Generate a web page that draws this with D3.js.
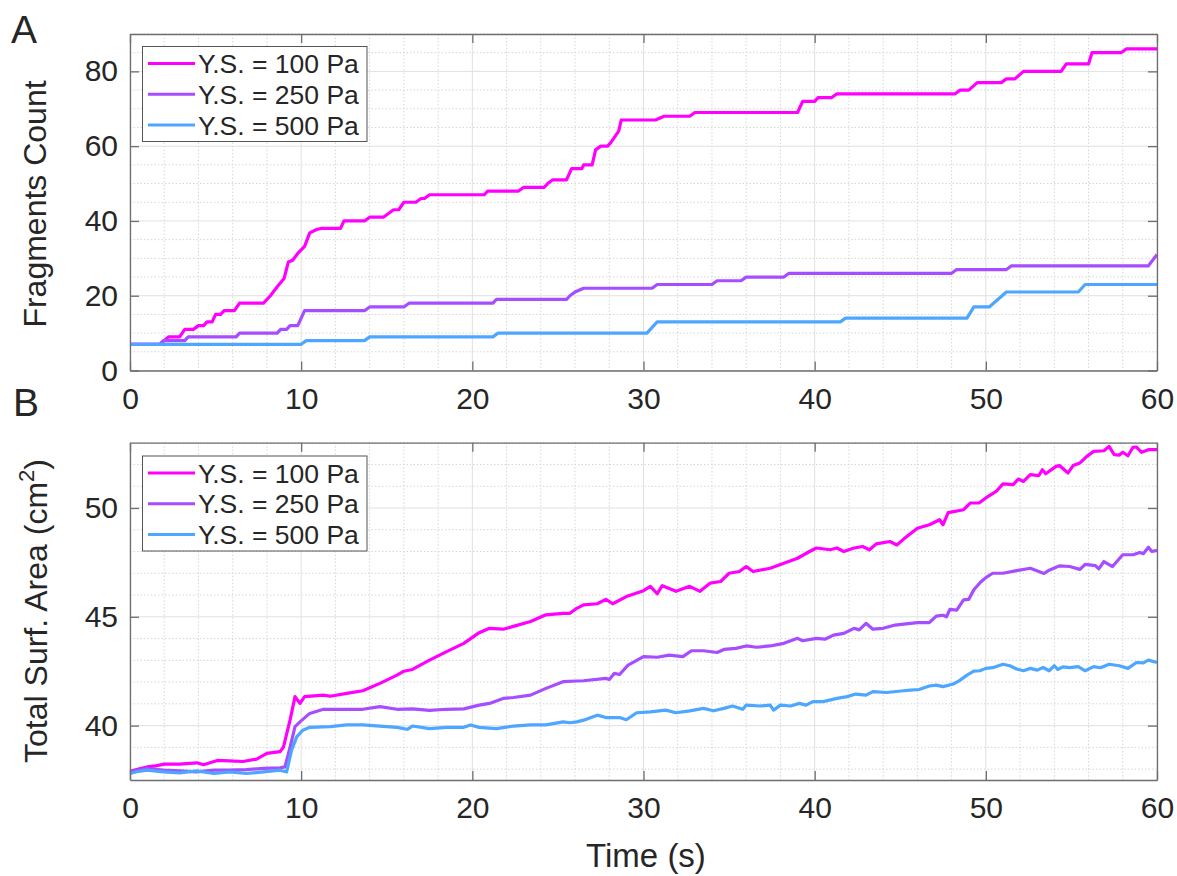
<!DOCTYPE html>
<html>
<head>
<meta charset="utf-8">
<script src="https://cdn.jsdelivr.net/npm/d3@7"></script>
<style>
  body { margin: 0; background: #fff; }
  svg text { font-family: "Liberation Sans", Arial, sans-serif; fill: #262626; }
</style>
</head>
<body>
<div class="graph"></div>
<script>
// ---- data ----
const seriesNames = ['Y.S. = 100 Pa', 'Y.S. = 250 Pa', 'Y.S. = 500 Pa'];
const seriesColors = ['#ff00ff', '#a64dff', '#4da6ff'];

const xTicks = [0, 10, 20, 30, 40, 50, 60];
const yTicksA = [0, 20, 40, 60, 80];
const yTicksB = [40, 45, 50];

// panel A : fragments count, [time (s), count]
const countYS100 = [[0,7],[1.75,7],[2.25,9],[2.9,9],[3.2,11],[3.7,11],[4.0,12],[4.3,12],[4.5,13],[4.8,13],[5.0,15],[5.3,15],[5.5,16],[6.1,16],[6.4,18],[7.8,18],[8.2,20],[8.6,22.4],[9.0,24.6],[9.25,29],[9.5,29.5],[9.8,31.3],[10.2,33.2],[10.5,36.8],[10.9,37.7],[11.2,38],[12.3,38],[12.5,40],[13.7,40],[14.0,41],[14.8,41],[15.1,42],[15.4,43],[15.7,43],[16.0,45],[16.7,45],[17.0,46],[17.2,46],[17.5,47],[20.7,47],[20.9,48],[22.7,48],[23.0,49],[24.2,49],[24.4,50],[24.7,51],[25.5,51],[25.8,54],[26.4,54],[26.5,55],[27.0,55],[27.2,59],[27.5,60],[27.9,60],[28.1,61],[28.4,63],[28.55,64],[28.7,67],[30.7,67],[31.2,68],[32.7,68],[33.0,69],[39.0,69],[39.3,72],[40.0,72],[40.2,73],[41.0,73],[41.3,74],[48.2,74],[48.5,75],[49.0,75],[49.5,77],[50.9,77],[51.2,78],[51.7,78],[52.2,80],[54.4,80],[54.7,82],[56.0,82],[56.2,85],[57.9,85],[58.2,86],[60,86]];
const countYS250 = [[0,7],[1.75,7],[1.95,8],[3.2,8],[3.4,9],[6.2,9],[6.4,10],[8.6,10],[8.8,11],[9.15,11],[9.35,12],[9.8,12],[10.2,16],[13.7,16],[14.0,17],[16.0,17],[16.3,18],[21.2,18],[21.4,19],[25.5,19],[25.7,20],[26.0,21],[26.5,22],[30.5,22],[30.8,23],[34.0,23],[34.3,24],[35.7,24],[36.0,25],[38.2,25],[38.5,26],[48.0,26],[48.3,27],[51.2,27],[51.5,28],[59.5,28],[60,31]];
const countYS500 = [[0,7],[10.0,7],[10.3,8],[13.7,8],[14.0,9],[21.2,9],[21.5,10],[30.2,10],[30.8,13],[41.5,13],[41.8,14],[48.9,14],[49.3,17],[50.2,17],[51.2,21],[55.4,21],[55.8,23],[60,23]];

// panel B : total surface area (cm^2), [time (s), area]
const areaYS100 = [[0,37.9],[0.5,38.0],[1.0,38.1],[1.5,38.15],[2.0,38.23],[2.9,38.23],[3.9,38.29],[4.3,38.2],[5.1,38.4],[5.8,38.38],[6.6,38.35],[7.4,38.46],[8.0,38.72],[8.76,38.8],[8.96,39.0],[9.35,40.25],[9.64,41.33],[9.93,41.02],[10.2,41.33],[11.3,41.4],[11.7,41.35],[12.66,41.48],[13.6,41.6],[14.6,41.94],[15.6,42.32],[16.0,42.5],[16.5,42.58],[17.5,43.01],[18.5,43.4],[19.5,43.78],[20.4,44.27],[21.0,44.47],[21.8,44.43],[22.4,44.56],[23.4,44.78],[24.3,45.09],[25.3,45.16],[25.7,45.16],[26.1,45.39],[26.5,45.55],[27.3,45.6],[27.8,45.8],[28.2,45.6],[29.0,45.93],[30.0,46.2],[30.4,46.4],[30.8,46.06],[31.1,46.43],[31.9,46.17],[32.7,46.4],[33.3,46.17],[33.9,46.55],[34.5,46.62],[35.0,47.0],[35.6,47.08],[36.0,47.31],[36.4,47.08],[37.4,47.23],[38.2,47.46],[39.0,47.69],[39.7,48.0],[40.1,48.16],[40.9,48.08],[41.3,48.16],[41.7,48.0],[42.3,48.16],[42.8,48.23],[43.2,48.08],[43.6,48.35],[44.4,48.46],[44.8,48.3],[45.2,48.57],[46.0,49.07],[46.7,49.23],[47.3,49.46],[47.5,49.23],[47.8,49.79],[48.7,49.92],[49.1,50.23],[49.6,50.23],[50.0,50.46],[50.6,50.76],[51.0,51.11],[51.6,51.07],[51.9,51.33],[52.2,51.22],[52.6,51.53],[53.1,51.49],[53.3,51.76],[53.5,51.57],[54.1,51.91],[54.3,51.95],[54.8,51.61],[55.1,51.95],[55.5,52.07],[55.9,52.37],[56.3,52.6],[56.9,52.63],[57.2,52.83],[57.5,52.45],[57.8,52.43],[58.0,52.56],[58.3,52.4],[58.6,52.79],[58.8,52.8],[59.1,52.56],[59.5,52.68],[60,52.68]];
const areaYS250 = [[0,37.9],[0.5,37.95],[1.0,38.03],[1.95,37.95],[2.9,37.92],[3.9,37.87],[4.9,37.95],[5.8,37.95],[6.8,37.98],[7.8,38.03],[8.76,38.06],[9.05,38.1],[9.35,39.0],[9.64,39.95],[9.93,40.17],[10.5,40.56],[11.3,40.75],[12.66,40.75],[13.6,40.75],[14.6,40.87],[15.6,40.75],[16.5,40.77],[17.5,40.7],[18.5,40.75],[19.5,40.77],[20.4,40.94],[21.0,41.02],[21.8,41.25],[22.4,41.29],[23.4,41.4],[24.3,41.71],[25.3,42.02],[26.1,42.05],[26.5,42.06],[27.8,42.17],[28.0,42.12],[28.3,42.4],[28.6,42.35],[29.1,42.78],[30.0,43.17],[30.8,43.14],[31.5,43.24],[32.3,43.17],[32.8,43.44],[33.5,43.44],[34.3,43.36],[34.7,43.5],[35.4,43.55],[36.0,43.66],[36.6,43.6],[37.4,43.66],[38.2,43.78],[39.0,44.01],[39.3,43.9],[40.1,44.01],[40.6,43.97],[41.1,44.16],[41.7,44.24],[42.3,44.47],[42.6,44.4],[43.0,44.7],[43.4,44.43],[44.0,44.47],[44.7,44.62],[45.2,44.66],[46.0,44.73],[46.7,44.73],[47.1,45.03],[47.5,45.07],[47.7,45.0],[47.9,45.34],[48.3,45.31],[48.7,45.78],[49.0,45.8],[49.3,46.24],[49.7,46.6],[50.0,46.8],[50.4,47.0],[51.0,47.0],[51.8,47.12],[52.6,47.23],[53.4,46.99],[53.7,47.14],[54.3,47.34],[54.9,47.31],[55.5,47.18],[55.8,47.41],[56.4,47.35],[56.6,47.2],[56.9,47.54],[57.4,47.31],[58.0,47.85],[58.6,47.85],[59.0,47.95],[59.2,47.9],[59.5,48.2],[59.7,48.0],[60,48.05]];
const areaYS500 = [[0,37.8],[0.5,37.9],[1.0,37.95],[1.95,37.87],[2.9,37.83],[3.9,37.92],[4.9,37.8],[5.8,37.87],[6.8,37.8],[7.8,37.87],[8.76,37.95],[9.15,37.87],[9.44,38.87],[9.74,39.48],[10.1,39.79],[10.5,39.92],[11.7,39.95],[12.66,40.03],[13.6,40.03],[14.6,39.98],[15.6,39.92],[16.2,39.83],[16.5,39.98],[17.5,39.86],[18.5,39.92],[19.5,39.92],[19.9,40.03],[20.4,39.92],[21.4,39.86],[22.4,39.98],[23.4,40.03],[24.3,40.03],[25.3,40.17],[25.7,40.13],[26.1,40.17],[26.5,40.25],[27.3,40.48],[27.8,40.37],[28.6,40.37],[29.0,40.27],[29.6,40.59],[30.4,40.63],[31.3,40.71],[31.9,40.59],[32.7,40.68],[33.5,40.79],[34.1,40.68],[34.7,40.79],[35.2,40.9],[35.8,40.75],[36.0,40.94],[36.8,40.9],[37.4,40.94],[37.6,40.71],[38.0,40.94],[38.6,40.9],[39.1,41.02],[39.5,40.94],[39.9,41.1],[40.5,41.1],[41.3,41.25],[41.9,41.33],[42.4,41.45],[43.0,41.4],[43.4,41.56],[44.2,41.52],[45.2,41.6],[45.6,41.63],[46.1,41.66],[46.7,41.82],[47.1,41.86],[47.5,41.79],[48.1,41.91],[48.5,42.09],[48.9,42.32],[49.3,42.5],[49.65,42.52],[50.0,42.63],[50.4,42.66],[51.0,42.82],[51.4,42.75],[51.8,42.6],[52.2,42.52],[52.6,42.63],[53.0,42.55],[53.35,42.67],[53.7,42.52],[54.0,42.75],[54.2,42.58],[54.5,42.7],[54.9,42.66],[55.4,42.71],[55.8,42.52],[56.3,42.71],[56.7,42.66],[57.2,42.82],[57.8,42.75],[58.3,42.63],[58.8,42.9],[59.2,42.88],[59.5,43.01],[60,42.9]];

// ---- drawing ----
const W = 1177, H = 876;
const svg = d3.select('.graph').append('svg').attr('width', W).attr('height', H);

const left = 130, right = 1157;
const x = d3.scaleLinear().domain([0, 60]).range([left, right]);

const drawPanel = (cfg) => {
    const y = d3.scaleLinear().domain(cfg.yDomain).range([cfg.bottom, cfg.top]);
    const g = svg.append('g');
    const gridC = '#d6d6d6';

    // minor grid (dotted)
    g.selectAll('.mx').data(d3.range(0, 60.01, 2).filter(v => v % 10 !== 0)).enter().append('line')
        .attr('x1', d => x(d)).attr('x2', d => x(d)).attr('y1', cfg.top).attr('y2', cfg.bottom)
        .attr('stroke', gridC).attr('stroke-width', 1).attr('stroke-dasharray', '1.5,2');
    g.selectAll('.my').data(cfg.minorY.filter(v => !cfg.yTicks.includes(v))).enter().append('line')
        .attr('x1', left).attr('x2', right).attr('y1', d => y(d)).attr('y2', d => y(d))
        .attr('stroke', gridC).attr('stroke-width', 1).attr('stroke-dasharray', '1.5,2');
    // major grid
    g.selectAll('.gx').data(xTicks).enter().append('line')
        .attr('x1', d => x(d)).attr('x2', d => x(d)).attr('y1', cfg.top).attr('y2', cfg.bottom)
        .attr('stroke', '#e0e0e0').attr('stroke-width', 1);
    g.selectAll('.gy').data(cfg.yTicks).enter().append('line')
        .attr('x1', left).attr('x2', right).attr('y1', d => y(d)).attr('y2', d => y(d))
        .attr('stroke', '#e0e0e0').attr('stroke-width', 1);

    // data lines
    const line = d3.line().x(d => x(d[0])).y(d => y(d[1]));
    cfg.series.forEach((s, i) => {
        g.append('path').datum(s).attr('d', line)
            .attr('fill', 'none').attr('stroke', seriesColors[i])
            .attr('stroke-width', 3.2).attr('stroke-linejoin', 'round');
    });

    // axes, ticks point inwards like matlab
    const axC = '#6e6e6e';
    const bx = g.append('g').attr('transform', `translate(0,${cfg.bottom})`)
        .call(d3.axisBottom(x).tickValues(xTicks).tickSizeInner(-9).tickSizeOuter(0).tickPadding(17));
    const ly = g.append('g').attr('transform', `translate(${left},0)`)
        .call(d3.axisLeft(y).tickValues(cfg.yTicks).tickSizeInner(-9).tickSizeOuter(0).tickPadding(12));
    const tx = g.append('g').attr('transform', `translate(0,${cfg.top})`)
        .call(d3.axisTop(x).tickValues(xTicks).tickSizeInner(-9).tickSizeOuter(0).tickFormat(''));
    const ry = g.append('g').attr('transform', `translate(${right},0)`)
        .call(d3.axisRight(y).tickValues(cfg.yTicks).tickSizeInner(-9).tickSizeOuter(0).tickFormat(''));
    [bx, ly, tx, ry].forEach(a => {
        a.selectAll('path').attr('stroke', axC).attr('stroke-width', 1.3);
        a.selectAll('line').attr('stroke', axC).attr('stroke-width', 1.3);
        a.selectAll('text').attr('font-size', 30).attr('font-family', '"Liberation Sans", Arial, sans-serif').attr('fill', '#262626');
    });

    // legend
    const lg = g.append('g');
    lg.append('rect').attr('x', 142.5).attr('y', cfg.legTop).attr('width', 224.5).attr('height', 95)
        .attr('fill', '#fff').attr('stroke', '#555').attr('stroke-width', 1);
    seriesNames.forEach((n, i) => {
        const cy = cfg.legTop + 17 + i * 30.8;
        lg.append('line').attr('x1', 148).attr('x2', 195).attr('y1', cy).attr('y2', cy)
            .attr('stroke', seriesColors[i]).attr('stroke-width', 3);
        lg.append('text').attr('x', 198).attr('y', cy).attr('dy', '0.36em')
            .attr('font-size', 26.5).text(n);
    });

    // panel letter
    svg.append('text').attr('x', cfg.letterX).attr('y', cfg.letterY)
        .attr('font-size', 39).text(cfg.letter);
    return g;
};

drawPanel({
    top: 34, bottom: 370.5, yDomain: [0, 90], yTicks: yTicksA, minorY: d3.range(0, 90.1, 5),
    series: [countYS100, countYS250, countYS500], legTop: 46.5, letter: 'A', letterX: 11, letterY: 43
});
drawPanel({
    top: 442.7, bottom: 780, yDomain: [37.5, 53], yTicks: yTicksB, minorY: d3.range(38, 53.1, 1),
    series: [areaYS100, areaYS250, areaYS500], legTop: 456, letter: 'B', letterX: 13, letterY: 416
});

// axis titles
svg.append('text').attr('transform', 'translate(46,204) rotate(-90)')
    .attr('text-anchor', 'middle').attr('font-size', 32).text('Fragments Count');
const yb = svg.append('text').attr('transform', 'translate(47,611) rotate(-90)')
    .attr('text-anchor', 'middle').attr('font-size', 32);
yb.append('tspan').text('Total Surf. Area (cm');
yb.append('tspan').attr('font-size', 22).attr('dy', -13).text('2');
yb.append('tspan').attr('dy', 13).text(')');
svg.append('text').attr('x', 646).attr('y', 867).attr('text-anchor', 'middle')
    .attr('font-size', 33).text('Time (s)');
</script>
</body>
</html>
